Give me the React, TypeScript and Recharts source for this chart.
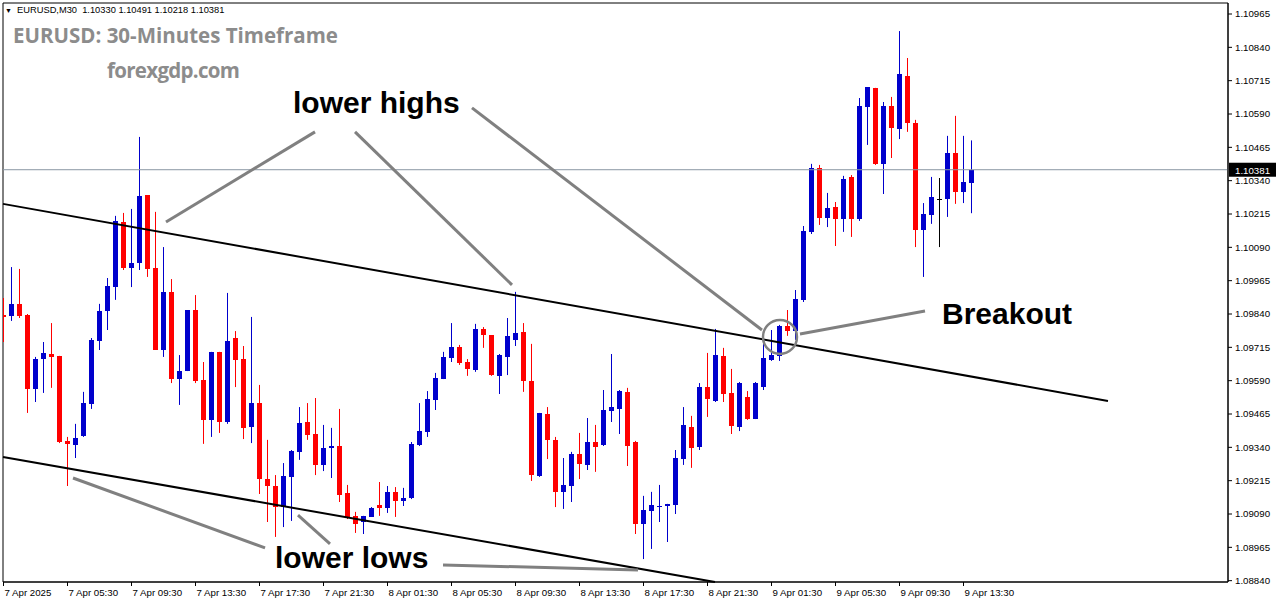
import React from 'react'
import {
  ComposedChart,
  Bar,
  XAxis,
  YAxis,
  ReferenceLine,
  ReferenceDot,
  ReferenceArea,
} from 'recharts'

// EURUSD M30, 7 Apr 01:30 .. 9 Apr 14:00
const OPEN = [
  1.09836, 1.09832, 1.09878, 1.09836, 1.09559, 1.09671, 1.0969, 1.09683, 1.09364, 1.09349,
  1.09383, 1.09503, 1.09739, 1.09851, 1.09941, 1.10185, 1.10013, 1.10031, 1.10286, 1.10013,
  1.09705, 1.09923, 1.09596, 1.09626, 1.09855, 1.09593, 1.09443, 1.09698, 1.09435, 1.0975,
  1.09671, 1.09416, 1.09506, 1.09221, 1.09195, 1.09116, 1.09229, 1.09323, 1.09435, 1.0939,
  1.09274, 1.09338, 1.09345, 1.09169, 1.09083, 1.0906, 1.09079, 1.09124, 1.09113, 1.09173,
  1.09139, 1.0915, 1.09349, 1.09398, 1.09518, 1.09596, 1.09675, 1.09716, 1.0966, 1.0963,
  1.09784, 1.09761, 1.09608, 1.09679, 1.09743, 1.09773, 1.09589, 1.09233, 1.09465, 1.09368,
  1.09173, 1.09195, 1.09315, 1.09274, 1.0936, 1.09349, 1.09476, 1.09484, 1.09548, 1.0936,
  1.09053, 1.09101, 1.09116, 1.0912, 1.09124, 1.09296, 1.09416, 1.09341, 1.09566, 1.09514,
  1.09683, 1.09544, 1.09416, 1.09529, 1.09446, 1.09566, 1.09668, 1.09683, 1.09795, 1.09776,
  1.09893, 1.10148, 1.10388, 1.102, 1.10241, 1.10196, 1.10354, 1.10196, 1.10616, 1.10688,
  1.10403, 1.1062, 1.10534, 1.10733, 1.10556, 1.10155, 1.10211, 1.10271, 1.10271, 1.10444,
  1.10298, 1.1033,
]
const HIGH = [
  1.099, 1.10016, 1.10009, 1.0984, 1.09679, 1.09735, 1.09806, 1.09683, 1.09379, 1.09428,
  1.09548, 1.0975, 1.09878, 1.09975, 1.10208, 1.10219, 1.10234, 1.10504, 1.10286, 1.10223,
  1.10091, 1.09971, 1.09686, 1.09855, 1.09911, 1.0966, 1.09698, 1.09698, 1.09919, 1.09776,
  1.0972, 1.09829, 1.09574, 1.09368, 1.09236, 1.09281, 1.0933, 1.09491, 1.09506, 1.09525,
  1.09424, 1.09413, 1.09484, 1.09199, 1.09098, 1.09083, 1.09116, 1.0921, 1.09195, 1.09191,
  1.09188, 1.0936, 1.09506, 1.09551, 1.09619, 1.09698, 1.09806, 1.09724, 1.09671, 1.09803,
  1.09791, 1.09761, 1.0969, 1.09825, 1.09923, 1.09806, 1.09728, 1.09469, 1.09491, 1.09379,
  1.093, 1.09323, 1.09394, 1.0945, 1.09424, 1.09555, 1.0969, 1.09555, 1.09563, 1.09364,
  1.09158, 1.09173, 1.09199, 1.09128, 1.0933, 1.09491, 1.09458, 1.09581, 1.09694, 1.09784,
  1.09713, 1.09634, 1.09585, 1.09551, 1.09585, 1.09743, 1.0978, 1.09799, 1.09855, 1.0993,
  1.1017, 1.10403, 1.10399, 1.10294, 1.1026, 1.10358, 1.10361, 1.1065, 1.10691, 1.10688,
  1.10635, 1.10654, 1.10901, 1.108, 1.10568, 1.10256, 1.10354, 1.1035, 1.10508, 1.10583,
  1.10508, 1.10491,
]
const LOW = [
  1.09735, 1.09814, 1.09825, 1.09469, 1.0951, 1.09544, 1.09563, 1.09356, 1.09195, 1.093,
  1.09379, 1.09484, 1.09705, 1.0978, 1.09893, 1.10005, 1.09941, 1.10005, 1.09979, 1.09705,
  1.09679, 1.09581, 1.09499, 1.09626, 1.09581, 1.09353, 1.09379, 1.09394, 1.09428, 1.09566,
  1.09371, 1.09356, 1.09165, 1.0906, 1.09004, 1.09041, 1.09064, 1.09293, 1.09368, 1.09236,
  1.09251, 1.09225, 1.09135, 1.09071, 1.09019, 1.09015, 1.09079, 1.09083, 1.09094, 1.09079,
  1.0912, 1.09146, 1.09345, 1.09379, 1.0948, 1.09596, 1.0966, 1.09649, 1.09608, 1.09623,
  1.09713, 1.09608, 1.0954, 1.09611, 1.0972, 1.09548, 1.09214, 1.09229, 1.09296, 1.09116,
  1.09109, 1.09135, 1.09221, 1.09255, 1.09248, 1.09345, 1.09435, 1.0939, 1.0927, 1.09015,
  1.08921, 1.08959, 1.0906, 1.08985, 1.0909, 1.09274, 1.09263, 1.0933, 1.09454, 1.0951,
  1.0951, 1.0939, 1.09401, 1.09443, 1.09446, 1.09555, 1.09664, 1.09664, 1.09758, 1.09743,
  1.09885, 1.1014, 1.10174, 1.10166, 1.10095, 1.10148, 1.10129, 1.10189, 1.10474, 1.10399,
  1.1029, 1.10425, 1.10496, 1.10523, 1.10091, 1.09979, 1.10178, 1.10091, 1.10204, 1.10253,
  1.10256, 1.10218,
]
const CLOSE = [
  1.09829, 1.09878, 1.09832, 1.09559, 1.09671, 1.09694, 1.09679, 1.0936, 1.09353, 1.09375,
  1.09506, 1.09743, 1.09851, 1.09945, 1.10189, 1.10013, 1.10031, 1.10283, 1.10009, 1.09705,
  1.09923, 1.09596, 1.09626, 1.09855, 1.09589, 1.09443, 1.09698, 1.09435, 1.09739, 1.09668,
  1.09413, 1.09506, 1.09221, 1.09195, 1.09116, 1.09233, 1.09326, 1.09431, 1.09386, 1.09274,
  1.09338, 1.09345, 1.09161, 1.09079, 1.09053, 1.09083, 1.09113, 1.09113, 1.09173, 1.09139,
  1.0915, 1.09353, 1.09401, 1.09521, 1.096, 1.09679, 1.09716, 1.09656, 1.09634, 1.09784,
  1.09761, 1.09611, 1.09686, 1.09758, 1.09769, 1.09589, 1.09236, 1.09469, 1.09368, 1.09173,
  1.09199, 1.09315, 1.09278, 1.0936, 1.09341, 1.0948, 1.09491, 1.09551, 1.09345, 1.09053,
  1.09105, 1.09124, 1.0912, 1.09128, 1.093, 1.09424, 1.09338, 1.09566, 1.09521, 1.09686,
  1.0954, 1.0942, 1.09581, 1.09446, 1.09581, 1.09675, 1.09686, 1.09795, 1.09776, 1.09896,
  1.10151, 1.10388, 1.102, 1.10238, 1.10196, 1.10346, 1.10196, 1.1062, 1.10691, 1.10403,
  1.1062, 1.10538, 1.1074, 1.10556, 1.10155, 1.10215, 1.10279, 1.10271, 1.10444, 1.10298,
  1.10335, 1.10381,
]

const TIME_TICKS = [0, 8, 16, 24, 32, 40, 48, 56, 64, 72, 80, 88, 96, 104, 112, 120]
const TIME_LABELS = [
  '7 Apr 2025', '7 Apr 05:30', '7 Apr 09:30', '7 Apr 13:30', '7 Apr 17:30', '7 Apr 21:30',
  '8 Apr 01:30', '8 Apr 05:30', '8 Apr 09:30', '8 Apr 13:30', '8 Apr 17:30', '8 Apr 21:30',
  '9 Apr 01:30', '9 Apr 05:30', '9 Apr 09:30', '9 Apr 13:30',
]
const PRICE_TICKS = [
  1.10965, 1.1084, 1.10715, 1.1059, 1.10465, 1.1034, 1.10215, 1.1009, 1.09965, 1.0984,
  1.09715, 1.0959, 1.09465, 1.0934, 1.09215, 1.0909, 1.08965, 1.0884,
]
const LAST_PRICE = 1.10381

// channel lines and annotation strokes, in bar index / price
const UPPER_CHANNEL = [{ x: -0.0625, y: 1.10253 }, { x: 138.06, y: 1.09514 }]
const LOWER_CHANNEL = [{ x: -0.0625, y: 1.09304 }, { x: 88.94, y: 1.08835 }]
const POINTERS = [
  [{ x: 38.94, y: 1.10523 }, { x: 20.31, y: 1.10185 }],
  [{ x: 43.94, y: 1.10523 }, { x: 63.56, y: 1.09949 }],
  [{ x: 58.56, y: 1.10613 }, { x: 94.81, y: 1.0978 }],
  [{ x: 115.19, y: 1.09851 }, { x: 99.56, y: 1.09765 }],
  [{ x: 8.69, y: 1.09225 }, { x: 32.69, y: 1.08963 }],
  [{ x: 36.81, y: 1.09086 }, { x: 40.81, y: 1.08978 }],
  [{ x: 54.94, y: 1.08899 }, { x: 79.31, y: 1.0888 }],
]
const BREAKOUT = { x: 97.06, y: 1.09754 }

const BULL = '#0000cc'
const BEAR = '#ff0000'
const AXIS_FONT = '"Liberation Sans", Arial, sans-serif'

const rows = OPEN.map((o, i) => ({ i, o, h: HIGH[i], l: LOW[i], c: CLOSE[i] }))

function Candle(props: any) {
  const { x, y, width, height, payload } = props
  if (x == null || y == null) return null
  const { o, h, l, c } = payload
  const top = Math.min(y, y + height)
  const bot = Math.max(y, y + height)
  const span = h - l || 1
  const yO = top + ((h - o) / span) * (bot - top)
  const yC = top + ((h - c) / span) * (bot - top)
  const color = c > o ? BULL : c < o ? BEAR : '#000'
  const cx = Math.round(x + width / 2 - 0.5) + 0.5
  const bTop = Math.round(Math.min(yO, yC))
  const bH = Math.max(Math.round(Math.max(yO, yC)) - bTop, 1)
  return (
    <g>
      <line x1={cx} x2={cx} y1={top} y2={bot} stroke={color} strokeWidth={1} />
      <rect x={cx - 2.5} y={bTop} width={5} height={bH} fill={color} />
    </g>
  )
}

function TimeTick({ x, y, payload }: any) {
  const k = TIME_TICKS.indexOf(payload.value)
  return (
    <text x={x + 1} y={y + 8} fontSize={9.7} fontFamily={AXIS_FONT} fill="#000" textAnchor="start">
      {TIME_LABELS[k]}
    </text>
  )
}

function PriceTag({ viewBox }: any) {
  if (!viewBox) return null
  const left = viewBox.x + viewBox.width + 1
  return (
    <g>
      <rect x={left} y={viewBox.y - 7} width={47} height={14} fill="#000" />
      <text x={left + 6} y={viewBox.y + 4} fontSize={9.7} fontFamily={AXIS_FONT} fill="#fff">
        {LAST_PRICE.toFixed(5)}
      </text>
    </g>
  )
}

export default function App() {
  return (
    <div style={{ position: 'relative', width: 1276, height: 604, background: '#fff' }}>
      <style>{'body{margin:0}'}</style>
      <ComposedChart
        width={1276}
        height={604}
        data={rows}
        margin={{ top: 3, right: 0, bottom: 0, left: 3 }}
      >
        <XAxis
          dataKey="i"
          type="number"
          domain={[-0.0625, 153.0625]}
          allowDataOverflow
          ticks={TIME_TICKS}
          interval={0}
          tick={<TimeTick />}
          tickSize={4}
          height={22}
          axisLine={{ stroke: '#000' }}
          tickLine={{ stroke: '#000' }}
        />
        <YAxis
          orientation="right"
          type="number"
          domain={[1.08835, 1.1100625]}
          allowDataOverflow
          ticks={PRICE_TICKS}
          interval={0}
          width={48}
          tickSize={4}
          tickMargin={3}
          tick={{ fontSize: 9.7, fill: '#000', fontFamily: AXIS_FONT }}
          tickFormatter={(v: number) => v.toFixed(5)}
          axisLine={{ stroke: '#000' }}
          tickLine={{ stroke: '#000' }}
        />
        <ReferenceArea
          x1={-0.0625}
          x2={153.0625}
          y1={1.08835}
          y2={1.1100625}
          fill="none"
          stroke="#000"
          ifOverflow="visible"
        />
        <ReferenceLine
          y={LAST_PRICE}
          stroke="#8a96a3"
          strokeWidth={1}
          label={(p: any) => <PriceTag {...p} />}
        />
        <Bar dataKey={(d: any) => [d.l, d.h]} shape={<Candle />} isAnimationActive={false} />
        <ReferenceLine segment={UPPER_CHANNEL} stroke="#000" strokeWidth={2} ifOverflow="visible" />
        <ReferenceLine segment={LOWER_CHANNEL} stroke="#000" strokeWidth={2} ifOverflow="visible" />
        {POINTERS.map((seg, k) => (
          <ReferenceLine key={k} segment={seg} stroke="#808080" strokeWidth={3} ifOverflow="visible" />
        ))}
        <ReferenceDot
          x={BREAKOUT.x}
          y={BREAKOUT.y}
          r={17}
          fill="none"
          stroke="#808080"
          strokeWidth={2.5}
          ifOverflow="visible"
        />
      </ComposedChart>
      <svg
        width={1276}
        height={604}
        style={{ position: 'absolute', left: 0, top: 0, pointerEvents: 'none' }}
      >
        <text x={5} y={13} fontSize={9.3} fontFamily={AXIS_FONT} fill="#000" style={{ whiteSpace: 'pre' }}>
          <tspan fontSize={7}>▼</tspan>
          {'  EURUSD,M30  1.10330 1.10491 1.10218 1.10381'}
        </text>
        <text x={13} y={43} fontSize={20.5} fontWeight={700} fontFamily='"Open Sans", sans-serif' fill="#8c8c8c">
          EURUSD: 30-Minutes Timeframe
        </text>
        <text
          x={107}
          y={78}
          fontSize={20.5}
          fontWeight={700}
          letterSpacing={-0.7}
          fontFamily='"Open Sans", sans-serif'
          fill="#8c8c8c"
        >
          forexgdp.com
        </text>
        <g fontFamily={AXIS_FONT} fontWeight={700} fontSize={30} fill="#000">
          <text x={293} y={113}>lower highs</text>
          <text x={942} y={324}>Breakout</text>
          <text x={275} y={568}>lower lows</text>
        </g>
      </svg>
    </div>
  )
}
